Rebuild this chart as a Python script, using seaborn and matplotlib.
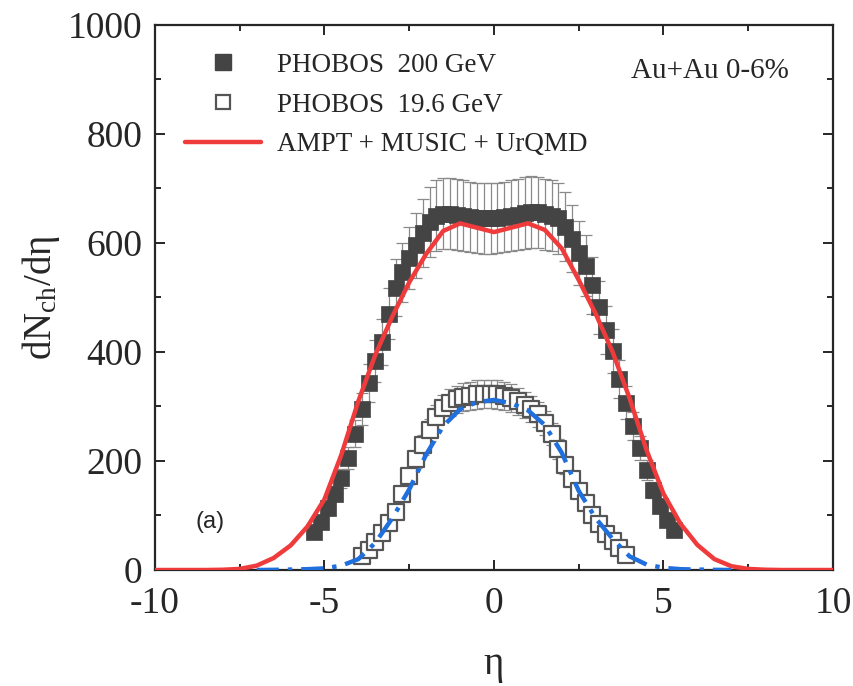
import numpy as np
import pandas as pd
import matplotlib
matplotlib.use("Agg")
import matplotlib.pyplot as plt
import seaborn as sns
from matplotlib.lines import Line2D
from matplotlib.ticker import MultipleLocator

# ---------------- data ----------------
eta_200 = [-5.3, -5.1, -4.9, -4.7, -4.5, -4.3, -4.1, -3.9, -3.7, -3.5, -3.3, -3.1, -2.9, -2.7,
           -2.5, -2.3, -2.1, -1.9, -1.7, -1.5, -1.3, -1.1, -0.9, -0.7, -0.5, -0.3, -0.1,
           0.1, 0.3, 0.5, 0.7, 0.9, 1.1, 1.3, 1.5, 1.7, 1.9, 2.1, 2.3, 2.5, 2.7, 2.9, 3.1,
           3.3, 3.5, 3.7, 3.9, 4.1, 4.3, 4.5, 4.7, 4.9, 5.1, 5.3]
dn_200 = [70, 88, 113, 140, 168, 205, 250, 295, 343, 384, 418, 470, 518, 546,
          572, 596, 618, 638, 650, 654, 654, 652, 650, 648, 646, 645, 645,
          646, 648, 650, 652, 655, 657, 656, 653, 650, 645, 630, 608, 582, 558, 522, 482,
          440, 402, 350, 307, 264, 224, 184, 147, 117, 92, 74]
err_200 = [v * 0.10 for v in dn_200]

eta_196 = [-3.9, -3.7, -3.5, -3.3, -3.1, -2.9, -2.7, -2.5, -2.3, -2.1, -1.9, -1.7, -1.5, -1.3,
           -1.1, -0.9, -0.7, -0.5, -0.3, -0.1, 0.1, 0.3, 0.5, 0.7, 0.9, 1.1, 1.3, 1.5, 1.7,
           1.9, 2.1, 2.3, 2.5, 2.7, 2.9, 3.1, 3.3, 3.5, 3.7, 3.9]
dn_196 = [25, 37, 52, 68, 86, 107, 140, 172, 203, 230, 257, 280, 298, 307,
          313, 317, 320, 322, 323, 323, 322, 320, 316, 310, 303, 296, 286, 270, 250,
          222, 192, 167, 145, 123, 100, 84, 66, 53, 40, 27]
err_196 = [v * 0.08 for v in dn_196]

eta_model = [-10, -9.5, -9, -8.5, -8, -7.5, -7, -6.5, -6, -5.5, -5, -4.5, -4, -3.5, -3, -2.5,
             -2, -1.5, -1, -0.5, 0, 0.5, 1, 1.5, 2, 2.5, 3, 3.5, 4, 4.5, 5, 5.5, 6, 6.5, 7,
             7.5, 8, 8.5, 9, 9.5, 10]
dn_model_200 = [0, 0, 0, 0, 0.5, 2, 8, 22, 45, 80, 130, 212, 310, 395, 465, 528,
                580, 622, 636, 628, 620, 628, 636, 624, 590, 532, 470, 400, 315, 220, 140, 85,
                46, 20, 7, 2, 0.5, 0, 0, 0, 0]

eta_model_196 = [-7, -6.5, -6, -5.5, -5, -4.5, -4, -3.5, -3, -2.5, -2, -1.5, -1, -0.5, 0,
                 0.5, 1, 1.5, 2, 2.5, 3, 3.5, 4, 4.5, 5, 5.5, 6, 6.5, 7]
dn_model_196 = [0, 0.3, 0.8, 1.5, 3, 8, 20, 50, 95, 148, 212, 264, 295, 308, 312,
                306, 293, 266, 215, 145, 95, 57, 25, 10, 4, 1.5, 0.8, 0.3, 0]

legend_labels = ["PHOBOS  200 GeV", "PHOBOS  19.6 GeV", "AMPT + MUSIC + UrQMD"]

# ---------------- style ----------------
sns.set_style("ticks")
plt.rcParams["font.family"] = ["Liberation Serif", "DejaVu Serif"]
plt.rcParams["mathtext.fontset"] = "custom"
plt.rcParams["mathtext.rm"] = "Liberation Serif"
plt.rcParams["mathtext.it"] = "Liberation Serif:italic"
plt.rcParams["axes.unicode_minus"] = False

RED = "#ef3b3b"
BLUE = "#1f6fdd"
DARK = "#444444"
ERRC = "#8a8a8a"

fig = plt.figure(figsize=(8.54, 6.86), dpi=100)
ax = fig.add_axes([0.1815, 0.1691, 0.7939, 0.7945])

df200 = pd.DataFrame({"eta": eta_200, "dn": dn_200})
df196 = pd.DataFrame({"eta": eta_196, "dn": dn_196})
dfm = pd.DataFrame({"eta": eta_model, "dn": dn_model_200})
dfm196 = pd.DataFrame({"eta": eta_model_196, "dn": dn_model_196})

# error bars
ax.errorbar(eta_200, dn_200, yerr=err_200, fmt="none", ecolor=ERRC, elinewidth=0.9,
            capsize=4, capthick=0.9, zorder=2)
ax.errorbar(eta_196, dn_196, yerr=err_196, fmt="none", ecolor=ERRC, elinewidth=0.9,
            capsize=4, capthick=0.9, zorder=2)

sns.scatterplot(data=df200, x="eta", y="dn", ax=ax, marker="s", s=140, color=DARK,
                edgecolor=DARK, linewidth=0.5, zorder=3, legend=False)
sns.scatterplot(data=df196, x="eta", y="dn", ax=ax, marker="s", s=130, facecolor="white",
                edgecolor="#555555", linewidth=1.6, zorder=3, legend=False)
sns.lineplot(data=dfm, x="eta", y="dn", ax=ax, color=RED, linewidth=3.2, zorder=4,
             sort=False)
sns.lineplot(data=dfm196, x="eta", y="dn", ax=ax, color=BLUE, linewidth=3.2, zorder=4,
             sort=False, linestyle=(0, (5, 2, 1, 2)))

ax.set_xlim(-10, 10)
ax.set_ylim(0, 1000)
ax.xaxis.set_major_locator(MultipleLocator(5))
ax.xaxis.set_minor_locator(MultipleLocator(2.5))
ax.yaxis.set_major_locator(MultipleLocator(200))
ax.yaxis.set_minor_locator(MultipleLocator(100))
ax.tick_params(which="both", direction="in", top=True, right=True, width=1.4)
ax.tick_params(which="major", length=7, labelsize=27)
ax.tick_params(axis="y", which="major", pad=9)
ax.tick_params(axis="x", which="major", pad=12)
ax.tick_params(which="minor", length=4)
for sp in ax.spines.values():
    sp.set_linewidth(1.6)
    sp.set_visible(True)

ax.set_xlabel("η", fontsize=28, labelpad=18)
ax.set_ylabel(r"dN$_{\mathrm{ch}}$/dη", fontsize=28, labelpad=4)

ax.text(0.081, 0.088, "(a)", transform=ax.transAxes, fontsize=17,
        family="Liberation Sans", ha="center", va="center")
ax.text(0.819, 0.915, "Au+Au 0-6%", transform=ax.transAxes, fontsize=21,
        ha="center", va="center")

handles = [
    Line2D([], [], linestyle="none", marker="s", markersize=11, color=DARK),
    Line2D([], [], linestyle="none", marker="s", markersize=10.5, markerfacecolor="white",
           markeredgecolor="#555555", markeredgewidth=1.6),
    Line2D([], [], color=RED, linewidth=3.2),
]
ax.legend(handles, legend_labels, loc="upper left", bbox_to_anchor=(0.02, 0.979),
          frameon=False, fontsize=19.5, handlelength=2.8, handletextpad=0.6,
          labelspacing=0.55, borderaxespad=0.2)

fig.savefig("out.png", dpi=100)
